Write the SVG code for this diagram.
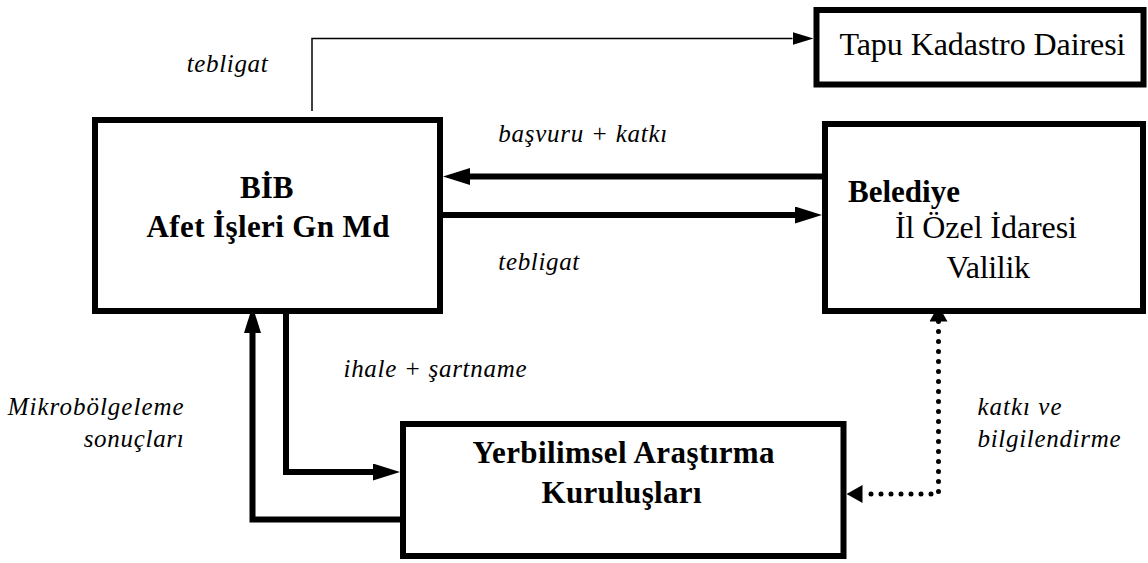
<svg xmlns="http://www.w3.org/2000/svg" width="1148" height="563" viewBox="0 0 1148 563">
<style>
.box{fill:#fff;stroke:#000;stroke-width:6}
.b{font-family:"Liberation Serif","Times New Roman","DejaVu Serif",serif;font-weight:bold;font-size:31px;fill:#000}
.r{font-family:"Liberation Serif","Times New Roman","DejaVu Serif",serif;font-size:32px;fill:#000}
.i{font-family:"Liberation Serif","Times New Roman","DejaVu Serif",serif;font-style:italic;font-size:25px;fill:#000}
.thick{fill:none;stroke:#000;stroke-width:6;stroke-linejoin:miter;marker-end:url(#ah)}
.thin{fill:none;stroke:#000;stroke-width:1.5;marker-end:url(#ahThin)}
.dot{fill:none;stroke:#000;stroke-width:5;stroke-linecap:round;stroke-dasharray:0 10;marker-start:url(#ahDot);marker-end:url(#ahDot)}
</style>
<defs>
<marker id="ah" viewBox="0 0 27 17" markerWidth="27" markerHeight="17" markerUnits="userSpaceOnUse" refX="0" refY="8.5" orient="auto"><path d="M0,0 L27,8.5 L0,17 z" fill="#000"/></marker>
<marker id="ahThin" viewBox="0 0 21 13" markerWidth="21" markerHeight="13" markerUnits="userSpaceOnUse" refX="0" refY="6.5" orient="auto"><path d="M0,0 L21,6.5 L0,13 z" fill="#000"/></marker>
<marker id="ahDot" viewBox="0 0 16 18" markerWidth="16" markerHeight="18" markerUnits="userSpaceOnUse" refX="0" refY="9" orient="auto-start-reverse"><path d="M0,0 L16,9 L0,18 z" fill="#000"/></marker>
</defs>
<rect width="1148" height="563" fill="#fff"/>
<g id="connectors">
<path class="thin" d="M312,111 V38.5 H792.5"/>
<path class="thick" d="M822,176.5 H470"/>
<path class="thick" d="M443,215 H795"/>
<path class="thick" d="M286,304 V472 H373"/>
<path class="thick" d="M401,519.5 H252.5 V333"/>
<path class="dot" d="M938.5,321.5 V494 H862.5"/>
</g>
<g id="labels">
<text class="i" x="186.7" y="72" textLength="81">tebligat</text>
<text class="i" x="498.3" y="141.7" textLength="169">başvuru + katkı</text>
<text class="i" x="498.3" y="270" textLength="81">tebligat</text>
<text class="i" x="343.5" y="377.3" textLength="183">ihale + şartname</text>
<text class="i" x="183.7" y="415" text-anchor="end" textLength="176">Mikrobölgeleme</text>
<text class="i" x="183.7" y="446.7" text-anchor="end" textLength="100">sonuçları</text>
<text class="i" x="977.5" y="415" textLength="84">katkı ve</text>
<text class="i" x="977.5" y="446.7" textLength="143">bilgilendirme</text>
</g>
<g id="node-bib">
<rect class="box" x="95" y="120" width="345" height="191"/>
<text class="b" x="266.7" y="198.3" text-anchor="middle">BİB</text>
<text class="b" x="268" y="237.3" text-anchor="middle" textLength="243">Afet İşleri Gn Md</text>
</g>
<g id="node-tapu">
<rect class="box" x="816.5" y="10" width="327" height="74.5"/>
<text class="r" x="839.5" y="55" textLength="286">Tapu Kadastro Dairesi</text>
</g>
<g id="node-belediye">
<rect class="box" x="825" y="124" width="318" height="187"/>
<text class="b" x="848" y="201.7" textLength="112">Belediye</text>
<text class="r" x="895" y="238.3" textLength="182">İl Özel İdaresi</text>
<text class="r" x="946.5" y="278.3" textLength="83.5">Valilik</text>
</g>
<g id="node-yerbilimsel">
<rect class="box" x="403" y="424" width="440.5" height="132"/>
<text class="b" x="472.6" y="463.3" textLength="302">Yerbilimsel Araştırma</text>
<text class="b" x="541.5" y="503.3" textLength="160">Kuruluşları</text>
</g>
</svg>
